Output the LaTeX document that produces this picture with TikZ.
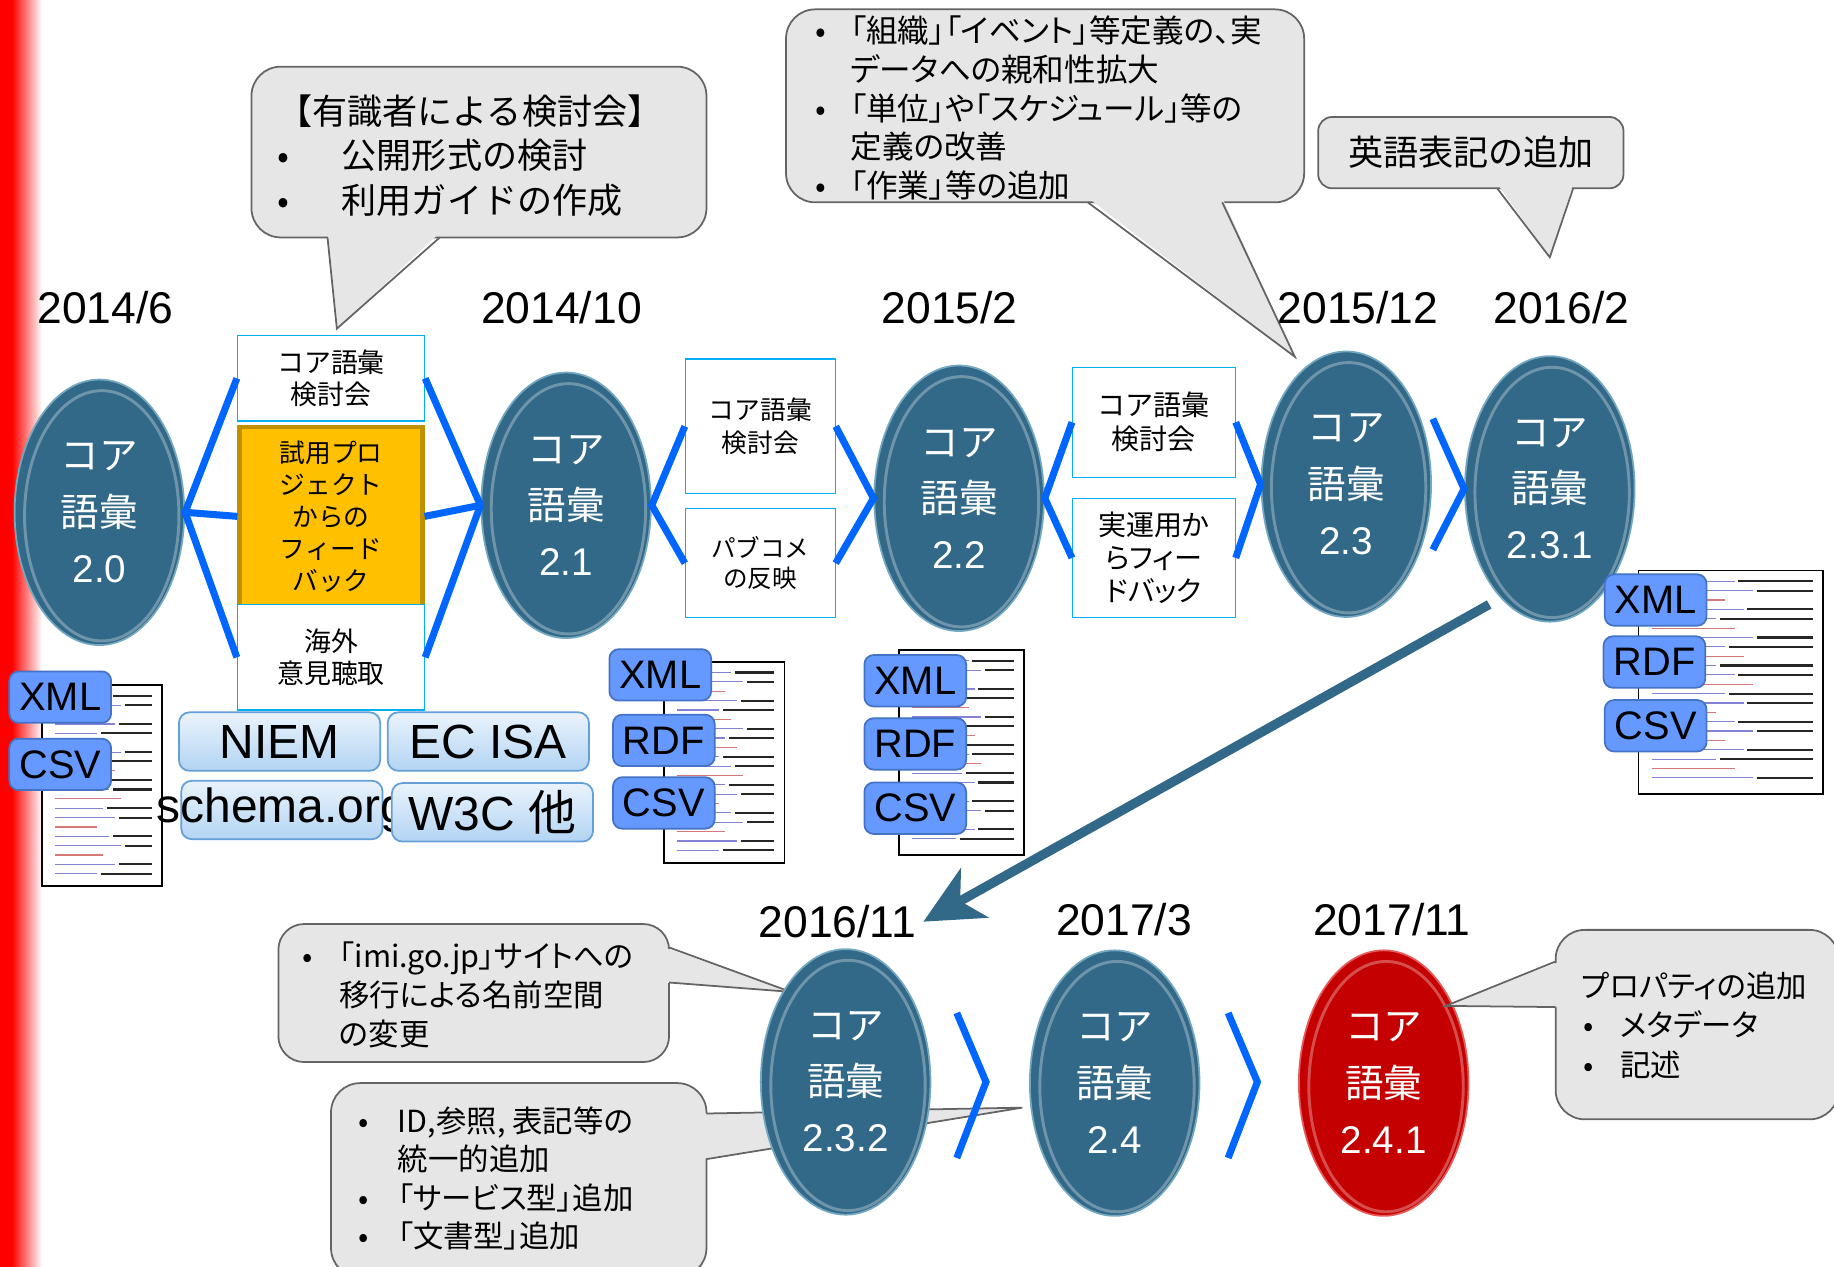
\documentclass[tikz,border=0pt]{standalone}
\usepackage{fontspec}
\setmainfont{Liberation Sans}
\newfontfamily\jp{Noto Sans CJK JP}
\newfontfamily\jpp[RawFeature=+palt]{Noto Sans CJK JP}
\usepackage{tikz}
\usetikzlibrary{arrows.meta,positioning,shapes.geometric}

\definecolor{vocabblue}{RGB}{50,104,136}
\definecolor{vocabrim}{RGB}{160,210,230}
\definecolor{vocabred}{RGB}{196,0,0}
\definecolor{redrim}{RGB}{255,150,150}
\definecolor{chevblue}{RGB}{0,102,255}
\definecolor{boxcyan}{RGB}{0,176,240}
\definecolor{fbyellow}{RGB}{255,192,0}
\definecolor{fbgold}{RGB}{191,144,0}
\definecolor{callgray}{RGB}{230,230,230}
\definecolor{calledge}{RGB}{100,100,100}
\definecolor{tagblue}{RGB}{102,153,255}
\definecolor{tagedge}{RGB}{68,114,196}
\definecolor{btntop}{RGB}{234,243,252}
\definecolor{btnbot}{RGB}{178,212,243}
\definecolor{btnedge}{RGB}{100,160,215}
\definecolor{codeblue}{RGB}{130,130,215}
\definecolor{codered}{RGB}{215,120,120}

\newcommand{\fsz}[2]{\fontsize{#1}{#2}\selectfont}

\begin{document}
\begin{tikzpicture}[
  x=1pt, y=-1pt,
  vocab/.style={ellipse,draw=vocabrim!60!vocabblue,line width=1.5pt,fill=vocabblue,minimum width=145pt,minimum height=227pt,inner sep=0pt,text=white,align=center,font=\fsz{33}{48},
    path picture={\draw[white,opacity=.3,line width=2.5pt] ([xshift=2pt,yshift=-3pt]path picture bounding box.center) ellipse [x radius=66pt,y radius=107pt];}},
  datelbl/.style={inner sep=0pt,font=\fsz{38}{40}},
  stepbox/.style={draw=boxcyan,line width=1pt,fill=white,align=center,inner sep=0pt,font=\jp\fsz{23}{28}},
  fbbox/.style={stepbox,draw=fbgold,line width=4pt,fill=fbyellow,font=\jp\fsz{22}{27.3}},
  chev/.style={draw=chevblue,line width=6pt,line join=miter},
  tag/.style={draw=tagedge,line width=1.5pt,fill=tagblue,rounded corners=8pt,minimum width=87pt,minimum height=44pt,inner sep=0pt,font=\fsz{34}{36}},
  stdbtn/.style={draw=btnedge,line width=1.5pt,top color=btntop,bottom color=btnbot,rounded corners=9pt,minimum width=172pt,minimum height=50pt,inner sep=0pt,font=\fsz{41}{44}},
  docbox/.style={draw=black,line width=1.5pt,fill=white,inner sep=0pt},
  codethin/.style={line width=1pt},
  codebold/.style={draw=black!85,line width=1.8pt},
  callout/.style={draw=calledge,line width=1.5pt,fill=callgray,inner sep=0pt},
  tailline/.style={draw=calledge,line width=1.5pt,line join=miter},
  calltext/.style={inner sep=0pt,align=left,anchor=west},
  bigarrow/.style={draw=vocabblue,line width=8pt,-{Stealth[length=50pt,width=48pt,inset=14pt]}}
]
\useasboundingbox (0,0) rectangle (1568,1083);
\clip (0,0) rectangle (1568,1083);

% helpers
\newcommand{\vocab}[4][]{%% version ellipse
  \node[vocab,#1] (#2) at (#3) {{\jp コア}\\{\jp 語彙}\\#4};}
\newcommand{\tail}[5]{%% callout pointer: base, tip, base, inner base, inner base
  \fill[callgray] (#4) -- (#2) -- (#5) -- cycle;
  \draw[tailline] (#1) -- (#2) -- (#3);}
\newcommand{\docthumb}[6]{%% name, x, y, w, h, last row
  \node[docbox,anchor=north west,minimum width=#4pt,minimum height=#5pt] (#1) at (#2,#3) {};
  \begin{scope}[shift={(#2,#3)}]
    \foreach \r [count=\k] in {10,18,...,#6} {
      \pgfmathsetmacro\la{0.35*#4+mod(\k*7,5)*0.05*#4}
      \pgfmathsetmacro\lc{ifthenelse(mod(\k,3)==0,"codered","codeblue")}
      \draw[codethin,draw=\lc] (12,\r) -- ++(\la,0);
      \ifnum\numexpr\k-3*(\k/3)\relax=0 \else
        \draw[codebold] (\la+15,\r) -- (#4-8,\r);\fi
    }
  \end{scope}}

% left edge band
\fill[red] (0,0) rectangle (10,1083);
\shade[left color=red,right color=white] (10,0) rectangle (36,1083);

% top callouts
\node[callout,rounded corners=25pt,minimum width=389pt,minimum height=146pt] (c1) at (409.5,130) {};
\tail{280,203}{288,281}{376,203}{280,199}{376,199}
\node[calltext,font=\jp\fsz{30}{38}] (t1) at (237,133)
  {【有識者による検討会】\\\makebox[55pt][l]{•}公開形式の検討\\\makebox[55pt][l]{•}利用ガイドの作成};

\node[callout,rounded corners=25pt,minimum width=443pt,minimum height=165pt] (c2) at (893.5,90.5) {};
\tail{930,173}{1107,305}{1045,173}{930,169}{1045,169}
\node[calltext,font=\jpp\fsz{27}{33}] (t2) at (697,92.5)
  {\makebox[30pt][l]{•}「組織」「イベント」等定義の、実\\\hspace*{30pt}データへの親和性拡大\\
   \makebox[30pt][l]{•}「単位」や「スケジュール」等の\\\hspace*{30pt}定義の改善\\
   \makebox[30pt][l]{•}「作業」等の追加};

\node[callout,rounded corners=12pt,minimum width=261pt,minimum height=61pt,font=\jp\fsz{30}{34}] (c3) at (1257.5,130.5) {英語表記の追加};
\tail{1280,161}{1325,220}{1345,161}{1280,157}{1345,157}

% dates
\node[datelbl] (d1406) at (90,263)   {2014/6};
\node[datelbl] (d1410) at (480,263)  {2014/10};
\node[datelbl] (d1502) at (812,263)  {2015/2};
\node[datelbl] (d1512) at (1161,263) {2015/12};
\node[datelbl] (d1602) at (1335,263) {2016/2};
\node[datelbl] (d1611) at (716,788)  {2016/11};
\node[datelbl] (d1703) at (961,786)  {2017/3};
\node[datelbl] (d1711) at (1190,786) {2017/11};

% review steps
\node[stepbox,minimum width=160pt,minimum height=73pt] (A1) at (283,323.5) {コア語彙\\検討会};
\node[fbbox,minimum width=156pt,minimum height=153pt] (A2) at (283,441.5) {試用プロ\\ジェクト\\からの\\フィード\\バック};
\node[stepbox,minimum width=160pt,minimum height=90pt] (A3) at (283,562) {海外\\意見聴取};
\node[stepbox,font=\jp\fsz{22}{28},minimum width=128pt,minimum height=115pt] (B1) at (650,364.5) {コア語彙\\検討会};
\node[stepbox,font=\jp\fsz{21}{26},minimum width=128pt,minimum height=93pt] (B2) at (650,481.5) {パブコメ\\の反映};
\node[stepbox,font=\jp\fsz{24}{29},minimum width=139pt,minimum height=94pt] (C1) at (986.5,361) {コア語彙\\検討会};
\node[stepbox,font=\jpp\fsz{24}{28},minimum width=139pt,minimum height=102pt] (C2) at (986.5,477) {実運用か\\らフィー\\ドバック};

% versions, top row
\vocab{E20}{85,438}{2.0}
\vocab{E21}{484,432}{2.1}
\vocab{E22}{820,426}{2.2}
\vocab{E23}{1151,414}{2.3}
\vocab{E231}{1325,418}{2.3.1}

% chevrons, top row
\draw[chev] (A1.west) -- (E20.east) -- (A3.west);
\draw[chev] (E20.east) -- (A2.west);
\draw[chev] (A1.east) -- (E21.west) -- (A3.east);
\draw[chev] (A2.east) -- (E21.west);
\draw[chev] (B1.west) -- (E21.east) -- (B2.west);
\draw[chev] (B1.east) -- (E22.west) -- (B2.east);
\draw[chev] (C1.west) -- (E22.east) -- (C2.west);
\draw[chev] (C1.east) -- (E23.west) -- (C2.east);
\coordinate (k4t) at (1225,358);
\coordinate (k4b) at (1225,470);
\draw[chev] (k4t) -- (E231.west) -- (k4b);

% published formats
\docthumb{doc20}{35}{585}{103}{172}{164}
\node[tag] (xml20) at (51.5,596) {XML};
\node[tag] (csv20) at (51.5,653.5) {CSV};

\docthumb{doc21}{567}{565}{103}{172}{164}
\node[tag] (xml21) at (564.5,577) {XML};
\node[tag] (rdf21) at (567.5,633) {RDF};
\node[tag] (csv21) at (567.5,686.5) {CSV};

\docthumb{doc22}{768}{555}{107}{175}{167}
\node[tag] (xml22) at (782.5,582) {XML};
\node[tag] (rdf22) at (782.5,636) {RDF};
\node[tag] (csv22) at (782.5,691) {CSV};

\docthumb{doc231}{1400}{487}{158}{191}{183}
\node[tag] (xml231) at (1415.5,513) {XML};
\node[tag] (rdf231) at (1414.5,566) {RDF};
\node[tag] (csv231) at (1415.5,620.5) {CSV};

% reference standards
\node[stdbtn] (niem) at (239,634) {NIEM};
\node[stdbtn] (ecisa) at (417.5,634) {EC ISA};
\node[stdbtn] (schema) at (241,692.5) {\makebox[0pt]{schema.org}};
\node[stdbtn] (w3c) at (421,694.5) {W3C {\jp 他}};

% jump to second row
\draw[bigarrow] ([yshift=-18pt]E231.south west) -- ([xshift=6pt]d1611.east);

% bottom callouts
\node[callout,rounded corners=22pt,minimum width=334pt,minimum height=118pt] (cD) at (405,849) {};
\tail{572,810}{676,848}{572,840}{568,810}{568,840}
\node[calltext,font=\jpp\fsz{26}{33.5}] (tD) at (258,850.5)
  {\makebox[32pt][l]{•}「imi.go.jp」サイトへの\\\hspace*{32pt}移行による名前空間\\\hspace*{32pt}の変更};

\node[callout,rounded corners=25pt,minimum width=321pt,minimum height=166pt] (cE) at (443.5,1009) {};
\tail{604,952}{874,947}{604,991}{600,952}{600,991}
\node[calltext,font=\jpp\fsz{26}{33}] (tE) at (306,1007.5)
  {\makebox[34pt][l]{•}ID,参照, 表記等の\\\hspace*{34pt}統一的追加\\
   \makebox[34pt][l]{•}「サービス型」追加\\\makebox[34pt][l]{•}「文書型」追加};

% versions, bottom row
\vocab{E232}{723,925}{2.3.2}
\vocab{E24}{953,926}{2.4}
\vocab[fill=vocabred,draw=redrim!60!vocabred]{E241}{1183,926}{2.4.1}

\coordinate (k5t) at (818,866);
\coordinate (k5m) at (843,925);
\coordinate (k5b) at (818,990);
\draw[chev] (k5t) -- (k5m) -- (k5b);
\coordinate (k6t) at (1050,866);
\coordinate (k6m) at (1075,925);
\coordinate (k6b) at (1050,990);
\draw[chev] (k6t) -- (k6m) -- (k6b);

\node[callout,rounded corners=25pt,minimum width=242pt,minimum height=162pt] (cF) at (1451,876) {};
\tail{1330,822}{1236,860}{1330,861}{1334,822}{1334,861}
\node[calltext,font=\jpp\fsz{26}{33.5}] (tF) at (1352,876.5)
  {プロパティの追加\\\makebox[33pt][l]{\hspace*{2pt}•}メタデータ\\\makebox[33pt][l]{\hspace*{2pt}•}記述};
\end{tikzpicture}
\end{document}
